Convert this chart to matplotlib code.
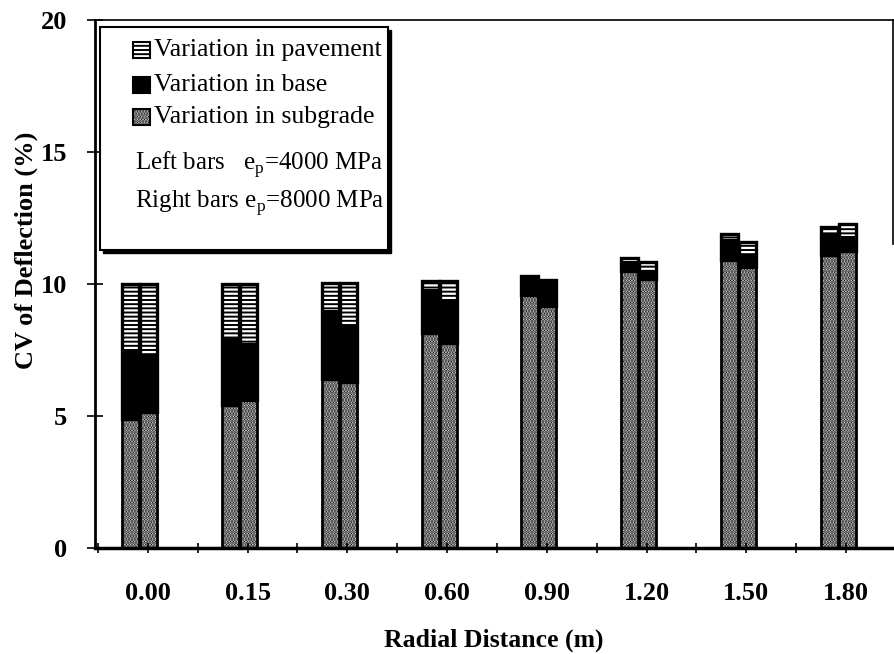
import numpy as np
import matplotlib
matplotlib.use("Agg")
import matplotlib.pyplot as plt
from matplotlib.patches import Rectangle

plt.rcParams['font.family'] = ['Liberation Serif', 'DejaVu Serif']
plt.rcParams['mathtext.fontset'] = 'custom'
plt.rcParams['mathtext.rm'] = 'Liberation Serif'
plt.rcParams['hatch.linewidth'] = 1.6

# radial distances of the sensors
distances = ['0.00', '0.15', '0.30', '0.60', '0.90', '1.20', '1.50', '1.80']

# CV contributions (%) for e_p = 4000 MPa (left bars)
sub_4000 = [4.9, 5.4, 6.4, 8.15, 9.58, 10.5, 10.9, 11.1]
base_4000 = [2.55, 2.6, 2.6, 1.65, 0.67, 0.38, 0.8, 0.8]
pave_4000 = [2.55, 2.0, 1.05, 0.3, 0.05, 0.12, 0.18, 0.25]

# CV contributions (%) for e_p = 8000 MPa (right bars)
sub_8000 = [5.15, 5.6, 6.3, 7.75, 9.17, 10.18, 10.65, 11.25]
base_8000 = [2.2, 2.15, 2.1, 1.65, 0.93, 0.34, 0.5, 0.58]
pave_8000 = [2.65, 2.25, 1.65, 0.7, 0.05, 0.3, 0.45, 0.45]

fig = plt.figure(figsize=(8.95, 6.54), dpi=100)
ax = fig.add_axes([95 / 895, 106 / 654, 798 / 895, 528 / 654])

x = np.arange(len(distances))
w = 0.17
SUB_HATCH = '......'


def stack(xpos, sub, base, pave):
    sub = np.array(sub)
    base = np.array(base)
    pave = np.array(pave)
    # subgrade: stippled white
    ax.bar(xpos, sub, w, color='white', edgecolor='black', hatch=SUB_HATCH, linewidth=0)
    # base: solid black
    ax.bar(xpos, base, w, bottom=sub, color='black', linewidth=0)
    # pavement: black with white horizontal lines
    ax.bar(xpos, pave, w, bottom=sub + base, color='black', edgecolor='white',
           hatch='----', linewidth=0)
    # outlines
    ax.bar(xpos, sub, w, fill=False, edgecolor='black', linewidth=2)
    ax.bar(xpos, base + pave, w, bottom=sub, fill=False, edgecolor='black', linewidth=2.4)


stack(x - 0.17, sub_4000, base_4000, pave_4000)
stack(x + 0.01, sub_8000, base_8000, pave_8000)

ax.set_xlim(-0.53, 7.47)
ax.set_ylim(0, 20)
ax.set_xticks(x)
ax.set_xticklabels(distances)
ax.set_xticks(np.arange(-0.5, 7.5, 1.0), minor=True)
ax.set_yticks([0, 5, 10, 15, 20])

ax.tick_params(axis='x', which='both', direction='inout', length=7, width=1.2, pad=21)
ax.tick_params(axis='y', direction='inout', length=12, width=1.2, pad=14)
for lab in ax.get_xticklabels() + ax.get_yticklabels():
    lab.set_fontsize(19)
    lab.set_fontweight('bold')

ax.spines['left'].set_linewidth(2)
ax.spines['bottom'].set_linewidth(2.5)
ax.spines['top'].set_linewidth(1.2)
ax.spines['right'].set_linewidth(1.2)
ax.spines['right'].set_bounds(11.5, 20)

ax.set_xlabel('Radial Distance (m)', fontsize=18.5, fontweight='bold', labelpad=17)
ax.set_ylabel('CV of Deflection (%)', fontsize=19, fontweight='bold')
ax.yaxis.set_label_coords(-0.072, 0.564)


# legend box drawn in axes fraction
def fx(px):
    return (px - 95) / 798


def fy(py):
    return (548 - py) / 528


ax.add_patch(Rectangle((fx(103), fy(253)), fx(391) - fx(103), fy(30) - fy(253),
                       transform=ax.transAxes, facecolor='black', edgecolor='black',
                       zorder=5, clip_on=False))
ax.add_patch(Rectangle((fx(100), fy(250)), fx(388) - fx(100), fy(27) - fy(250),
                       transform=ax.transAxes, facecolor='white', edgecolor='black',
                       linewidth=1.5, zorder=6, clip_on=False))

entries = [('Variation in pavement', 'black', 'white', '----', 50),
           ('Variation in base', 'black', 'black', None, 85),
           ('Variation in subgrade', 'white', 'black', SUB_HATCH, 117)]
for label, fc, hc, hatch, yc in entries:
    ax.add_patch(Rectangle((fx(133), fy(yc + 8)), fx(150) - fx(133), fy(yc - 8) - fy(yc + 8),
                           transform=ax.transAxes, facecolor=fc, edgecolor=hc,
                           hatch=hatch, linewidth=0, zorder=7))
    ax.add_patch(Rectangle((fx(133), fy(yc + 8)), fx(150) - fx(133), fy(yc - 8) - fy(yc + 8),
                           transform=ax.transAxes, fill=False, edgecolor='black',
                           linewidth=1.5, zorder=8))
    ax.text(fx(154), fy(yc), label, transform=ax.transAxes, fontsize=18.5,
            va='center', ha='left', zorder=8)

ax.text(fx(135), fy(165), r'Left bars   e$_{\rm p}$=4000 MPa', transform=ax.transAxes,
        fontsize=18, va='center', ha='left', zorder=8)
ax.text(fx(135), fy(203), r'Right bars e$_{\rm p}$=8000 MPa', transform=ax.transAxes,
        fontsize=18, va='center', ha='left', zorder=8)

fig.savefig('out.png', dpi=100)
